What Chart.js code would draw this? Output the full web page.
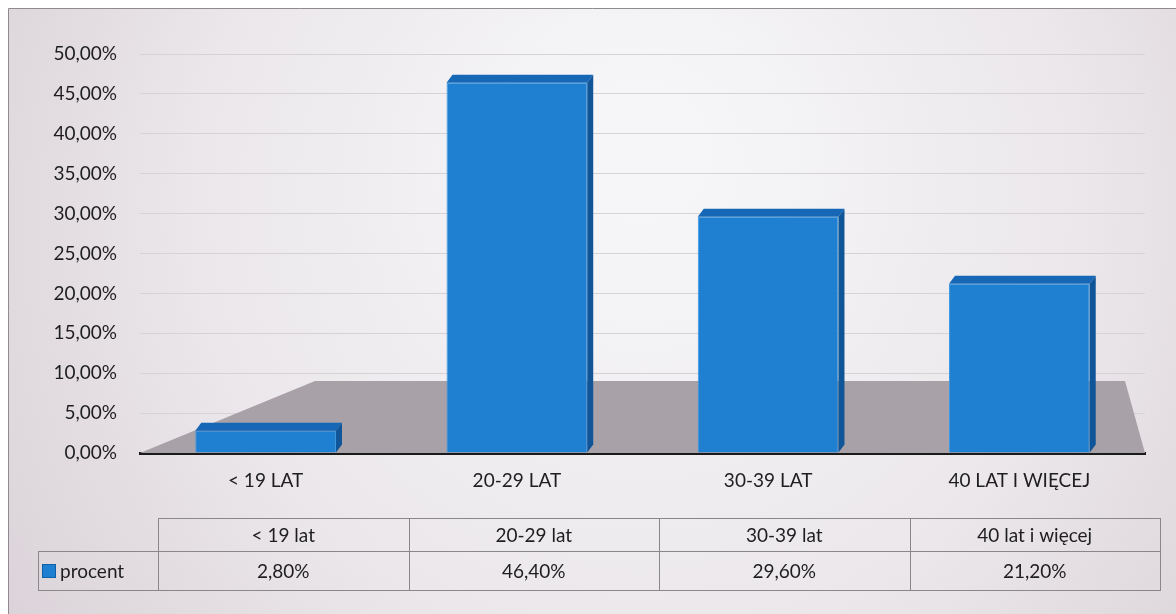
<!DOCTYPE html>
<html><head><meta charset="utf-8">
<script src="https://cdn.jsdelivr.net/npm/chart.js@4/dist/chart.umd.min.js"></script>
<style>html,body{margin:0;padding:0;background:#fff;overflow:hidden}#wrap{position:absolute;left:0;top:0;width:1176px;height:614px}</style>
</head><body><div id="wrap"><canvas id="c" width="1176" height="614"></canvas></div>
<script>
// ---- data ----
const categories = ['< 19 lat', '20-29 lat', '30-39 lat', '40 lat i więcej'];
const axisLabels = categories.map(c => c.toUpperCase());
const seriesName = 'procent';
const values = [0.028, 0.464, 0.296, 0.212];
const yTicks = [0, 0.05, 0.10, 0.15, 0.20, 0.25, 0.30, 0.35, 0.40, 0.45, 0.50];

const fmt = v => (v * 100).toFixed(2).replace('.', ',') + '%';
const FONT = 'Lato, "Open Sans", sans-serif';
const BLUE = '#1f7fd0';

const bgPlugin = {
  id: 'bg',
  beforeDraw(chart) {
    const ctx = chart.ctx;
    ctx.save();
    ctx.fillStyle = '#ffffff';
    ctx.fillRect(0, 0, chart.width, chart.height);
    const g = ctx.createRadialGradient(640, 150, 60, 640, 250, 760);
    g.addColorStop(0, '#f6f6f8');
    g.addColorStop(0.55, '#ebe7ea');
    g.addColorStop(1, '#d9d1d7');
    ctx.fillStyle = g;
    ctx.fillRect(8, 8, chart.width - 8, chart.height - 8);
    ctx.strokeStyle = '#8e8a8e';
    ctx.lineWidth = 1;
    ctx.beginPath();
    ctx.moveTo(8.5, chart.height); ctx.lineTo(8.5, 8.5); ctx.lineTo(chart.width, 8.5);
    ctx.stroke();
    ctx.restore();
  }
};

const floorPlugin = {
  id: 'floor',
  beforeDatasetsDraw(chart) {
    const { ctx, chartArea: a } = chart;
    ctx.save();
    ctx.fillStyle = '#a9a1a8';
    ctx.beginPath();
    ctx.moveTo(a.left, a.bottom);
    ctx.lineTo(a.left + 175, a.bottom - 72);
    ctx.lineTo(a.right - 20, a.bottom - 72);
    ctx.lineTo(a.right, a.bottom);
    ctx.closePath();
    ctx.fill();
    ctx.restore();
  }
};

const depthPlugin = {
  id: 'depth',
  afterDatasetsDraw(chart) {
    const ctx = chart.ctx;
    const meta = chart.getDatasetMeta(0);
    const dx = 6, dy = -8;
    ctx.save();
    meta.data.forEach(bar => {
      const l = bar.x - bar.width / 2, r = bar.x + bar.width / 2;
      const t = bar.y, b = bar.base;
      // top face
      ctx.fillStyle = '#1668b6';
      ctx.beginPath();
      ctx.moveTo(l, t); ctx.lineTo(l + dx, t + dy); ctx.lineTo(r + dx, t + dy); ctx.lineTo(r, t);
      ctx.closePath(); ctx.fill();
      // side face
      ctx.fillStyle = '#0f5597';
      ctx.beginPath();
      ctx.moveTo(r, t); ctx.lineTo(r + dx, t + dy); ctx.lineTo(r + dx, b + dy); ctx.lineTo(r, b);
      ctx.closePath(); ctx.fill();
    });
    ctx.restore();
  }
};

const tablePlugin = {
  id: 'table',
  afterDraw(chart) {
    const ctx = chart.ctx;
    const L0 = 38, L1 = 158, R = 1160, y0 = 518, y1 = 551, y2 = 590;
    const colW = (R - L1) / categories.length;
    ctx.save();
    ctx.strokeStyle = '#8a878a';
    ctx.lineWidth = 1;
    ctx.strokeRect(L1 + 0.5, y0 + 0.5, R - L1, y1 - y0);
    ctx.strokeRect(L0 + 0.5, y1 + 0.5, R - L0, y2 - y1);
    ctx.beginPath();
    for (let i = 0; i < categories.length; i++) {
      const x = Math.round(L1 + i * colW) + 0.5;
      ctx.moveTo(x, y0); ctx.lineTo(x, y2);
    }
    ctx.stroke();
    ctx.fillStyle = '#1e1e1e';
    ctx.font = '19px ' + FONT;
    ctx.textAlign = 'center';
    ctx.textBaseline = 'middle';
    categories.forEach((c, i) => {
      const cx = L1 + (i + 0.5) * colW;
      ctx.fillText(c, cx, (y0 + y1) / 2 + 1);
      ctx.fillText(fmt(values[i]), cx, (y1 + y2) / 2 + 1);
    });
    // legend key
    ctx.fillStyle = BLUE;
    ctx.fillRect(42, 564, 14, 14);
    ctx.strokeStyle = '#1060a8';
    ctx.strokeRect(42.5, 564.5, 13, 13);
    ctx.fillStyle = '#1e1e1e';
    ctx.textAlign = 'left';
    ctx.fillText(seriesName, 60, (y1 + y2) / 2 + 1);
    ctx.restore();
  }
};

new Chart(document.getElementById('c'), {
  type: 'bar',
  data: {
    labels: axisLabels,
    datasets: [{
      label: seriesName,
      data: values,
      backgroundColor: BLUE,
      borderColor: '#3d97e0',
      borderWidth: 1,
      barPercentage: 0.56,
      categoryPercentage: 1
    }]
  },
  options: {
    responsive: false,
    animation: false,
    devicePixelRatio: 1,
    layout: { padding: { left: 0, right: 31, top: 54, bottom: 121 } },
    plugins: { legend: { display: false }, tooltip: { enabled: false } },
    scales: {
      x: {
        afterFit: s => { s.height = 40; },
        grid: { display: false, drawTicks: false },
        border: { display: true, color: '#1a1a1a', width: 3 },
        ticks: { color: '#1e1e1e', font: { family: FONT, size: 19 }, padding: 16, maxRotation: 0 }
      },
      y: {
        min: 0, max: 0.5,
        afterFit: s => { s.width = 140; },
        afterBuildTicks: s => { s.ticks = yTicks.map(v => ({ value: v })); },
        grid: { color: '#d6d2d6', lineWidth: 1, drawTicks: false },
        border: { display: false },
        ticks: { color: '#1e1e1e', font: { family: FONT, size: 19 }, padding: 23, callback: v => fmt(v) }
      }
    }
  },
  plugins: [bgPlugin, floorPlugin, depthPlugin, tablePlugin]
});
</script>
</body></html>
